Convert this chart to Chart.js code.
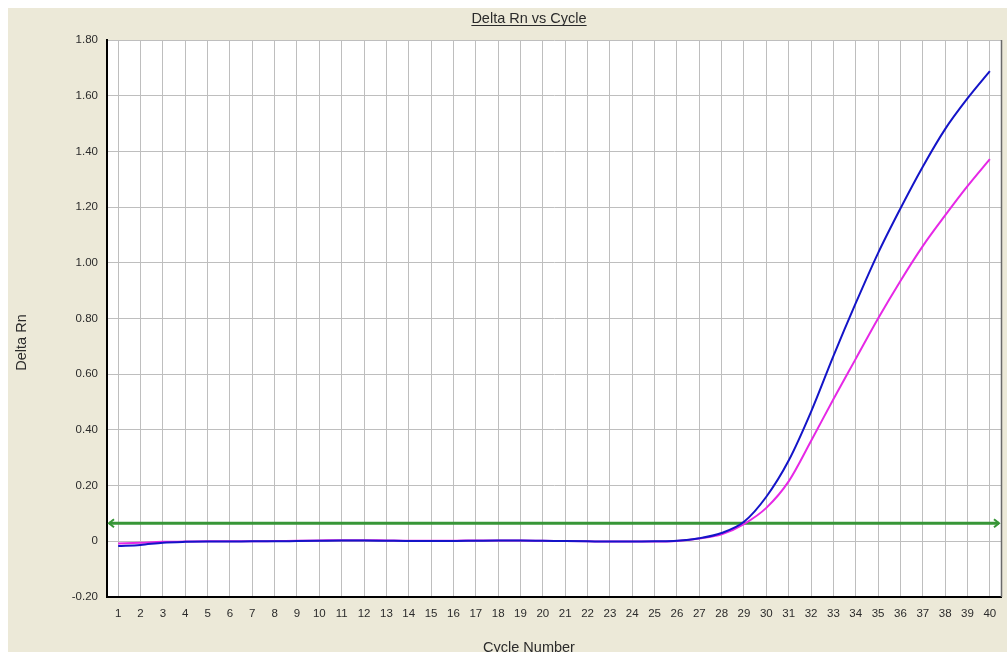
<!DOCTYPE html>
<html>
<head>
<meta charset="utf-8">
<script src="https://cdn.jsdelivr.net/npm/chart.js@4/dist/chart.umd.min.js"></script>
<style>
  html, body { margin: 0; padding: 0; background: #ffffff; overflow: hidden; }
  #wrap { position: absolute; left: 8px; top: 8px; width: 999px; height: 660px; }
</style>
</head>
<body>
<div id="wrap"><canvas id="c"></canvas></div>
<script>
const cycles = ['1','2','3','4','5','6','7','8','9','10','11','12','13','14','15','16','17','18','19','20',
                '21','22','23','24','25','26','27','28','29','30','31','32','33','34','35','36','37','38','39','40'];
const blueRn = [-0.017, -0.013, -0.005, -0.002, -0.001, -0.001, 0.000, 0.000, 0.001, 0.002,
                 0.003, 0.003, 0.002, 0.001, 0.001, 0.001, 0.002, 0.003, 0.003, 0.002,
                 0.001, 0.000, -0.001, -0.001, 0.000, 0.002, 0.011, 0.030, 0.070, 0.160,
                 0.290, 0.465, 0.665, 0.855, 1.035, 1.195, 1.345, 1.480, 1.590, 1.688];
const magentaRn = [-0.008, -0.005, -0.002, -0.001, 0.000, 0.000, 0.000, 0.001, 0.002, 0.003,
                    0.004, 0.004, 0.003, 0.002, 0.002, 0.002, 0.003, 0.003, 0.003, 0.002,
                    0.001, 0.000, -0.001, -0.001, -0.001, 0.001, 0.010, 0.025, 0.062, 0.120,
                    0.215, 0.360, 0.510, 0.655, 0.800, 0.935, 1.060, 1.170, 1.275, 1.372];
const thresholdValue = [0.065];
const yTickValues = [-0.2, 0, 0.2, 0.4, 0.6, 0.8, 1.0, 1.2, 1.4, 1.6, 1.8];
const yTickLabels = ['-0.20', '0', '0.20', '0.40', '0.60', '0.80', '1.00', '1.20', '1.40', '1.60', '1.80'];
const chartTitle = 'Delta Rn vs Cycle';
const xTitle = 'Cycle Number';
const yTitle = 'Delta Rn';

const FONT = '"Liberation Sans", Arial, sans-serif';
const TEXT = '#2b2b2b';

const decor = {
  id: 'decor',
  beforeDraw(chart) {
    const { ctx, chartArea: a, width, height } = chart;
    ctx.save();
    ctx.fillStyle = '#ECE9D8';
    ctx.fillRect(0, 0, width, height);
    ctx.fillStyle = '#ffffff';
    ctx.fillRect(a.left, a.top, a.right - a.left, a.bottom - a.top);
    ctx.restore();
  },
  beforeDatasetsDraw(chart) {
    const { ctx, chartArea: a } = chart;
    const y = chart.scales.y.getPixelForValue(thresholdValue[0]);
    ctx.save();
    // right border
    ctx.strokeStyle = '#6a6a6a';
    ctx.lineWidth = 1.5;
    ctx.beginPath();
    ctx.moveTo(a.right + 0.5, a.top);
    ctx.lineTo(a.right + 0.5, a.bottom);
    ctx.stroke();
    // threshold line
    ctx.strokeStyle = '#379637';
    ctx.lineWidth = 3;
    ctx.beginPath();
    ctx.moveTo(a.left + 2, y);
    ctx.lineTo(a.right - 2, y);
    ctx.stroke();
    ctx.lineWidth = 2;
    ctx.beginPath();
    ctx.moveTo(a.left + 7, y - 4);
    ctx.lineTo(a.left + 2, y);
    ctx.lineTo(a.left + 7, y + 4);
    ctx.moveTo(a.right - 7, y - 4);
    ctx.lineTo(a.right - 2, y);
    ctx.lineTo(a.right - 7, y + 4);
    ctx.stroke();
    ctx.restore();
  },
  afterDraw(chart) {
    const { ctx, chartArea: a } = chart;
    ctx.save();
    ctx.fillStyle = TEXT;
    ctx.strokeStyle = TEXT;
    // title
    ctx.font = '14.5px ' + FONT;
    ctx.textAlign = 'center';
    ctx.textBaseline = 'alphabetic';
    const cx = 521;
    ctx.fillText(chartTitle, cx, 15);
    const w = ctx.measureText(chartTitle).width;
    ctx.lineWidth = 1;
    ctx.beginPath();
    ctx.moveTo(cx - w / 2, 17.5);
    ctx.lineTo(cx + w / 2, 17.5);
    ctx.stroke();
    // x title
    ctx.fillText(xTitle, cx, 644);
    // y title
    ctx.translate(18, (a.top + a.bottom) / 2 + 24);
    ctx.rotate(-Math.PI / 2);
    ctx.textAlign = 'center';
    ctx.textBaseline = 'alphabetic';
    ctx.fillText(yTitle, 0, 0);
    ctx.restore();
  }
};

new Chart(document.getElementById('c'), {
  type: 'line',
  data: {
    labels: cycles,
    datasets: [
      { label: 'Well A', data: blueRn, borderColor: '#1414C8', borderWidth: 2, pointRadius: 0,
        cubicInterpolationMode: 'monotone', fill: false },
      { label: 'Well B', data: magentaRn, borderColor: '#E628E6', borderWidth: 2, pointRadius: 0,
        cubicInterpolationMode: 'monotone', fill: false }
    ]
  },
  options: {
    responsive: true,
    maintainAspectRatio: false,
    animation: false,
    events: [],
    layout: { padding: { left: 0, top: 32, right: 6, bottom: 0 } },
    plugins: { legend: { display: false }, title: { display: false }, tooltip: { enabled: false } },
    scales: {
      x: {
        type: 'category',
        offset: true,
        grid: { offset: false, color: '#BEBEBE', lineWidth: 1, drawTicks: false },
        border: { display: true, color: '#000000', width: 2 },
        ticks: { autoSkip: false, maxRotation: 0, minRotation: 0, padding: 10,
                 color: TEXT, font: { family: FONT, size: 11.5 } },
        afterFit(scale) { scale.height = 71; }
      },
      y: {
        type: 'linear',
        min: -0.2,
        max: 1.8,
        grid: { color: '#BEBEBE', lineWidth: 1, drawTicks: false },
        border: { display: true, color: '#000000', width: 2 },
        afterBuildTicks(scale) { scale.ticks = yTickValues.map(v => ({ value: v })); },
        ticks: { padding: 9, color: TEXT, font: { family: FONT, size: 11.5 },
                 callback: (v, i) => yTickLabels[i] },
        afterFit(scale) { scale.width = 99; }
      }
    }
  },
  plugins: [decor]
});
</script>
</body>
</html>
